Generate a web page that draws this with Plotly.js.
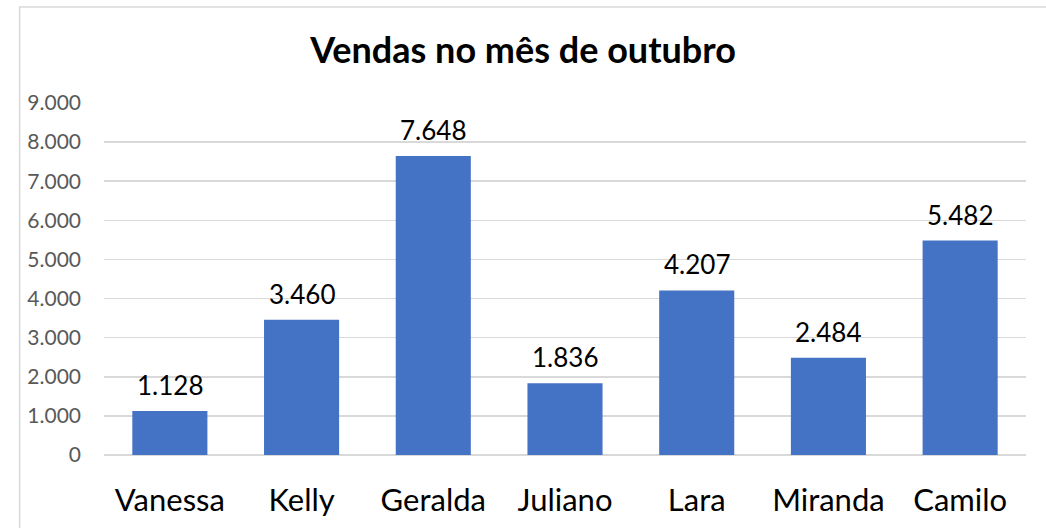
<!DOCTYPE html>
<html><head><meta charset="utf-8">
<script src="https://cdn.plot.ly/plotly-3.0.1.min.js"></script>
<style>body{margin:0;background:#fff}#chart{width:1046px;height:528px}</style>
</head><body><div id="chart"></div>
<script>
const categories = ["Vanessa","Kelly","Geralda","Juliano","Lara","Miranda","Camilo"];
const vendas = [1128, 3460, 7648, 1836, 4207, 2484, 5482];
const yTicks = [0,1000,2000,3000,4000,5000,6000,7000,8000,9000];

const FONT = "Lato, 'Open Sans', sans-serif";
const fmt = v => String(v).replace(/\B(?=(\d{3})+(?!\d))/g, '.');

const trace = {
  type: 'bar', x: categories, y: vendas,
  marker: {color: '#4472C4'},
  hoverinfo: 'skip'
};

const annotations = categories.map((c, i) => ({
  x: c, y: vendas[i], xref: 'x', yref: 'y',
  text: fmt(vendas[i]), showarrow: false,
  yanchor: 'bottom', yshift: 8,
  font: {family: FONT, size: 26, color: '#000'}
}));

const layout = {
  width: 1046, height: 528,
  margin: {l: 104, r: 20, t: 103, b: 73},
  paper_bgcolor: '#fff', plot_bgcolor: '#fff',
  separators: ',.',
  bargap: 0.43,
  showlegend: false,
  title: {text: '<b>Vendas no mês de outubro</b>', x: 0.5, xanchor: 'center', y: 0.905, yanchor: 'middle',
          font: {family: FONT, size: 36, color: '#000'}},
  xaxis: {type: 'category', showgrid: false, showline: false, zeroline: false,
          ticks: '', ticklabelstandoff: 24, tickfont: {family: FONT, size: 31, color: '#000'}, fixedrange: true},
  yaxis: {range: [0, 9000], tickvals: yTicks, ticktext: yTicks.map(fmt),
          showgrid: true, gridcolor: '#D9D9D9', gridwidth: 1.5,
          zeroline: true, zerolinecolor: '#D9D9D9', zerolinewidth: 1.5,
          showline: false, ticks: '', ticklabelstandoff: 22,
          tickfont: {family: FONT, size: 21, color: '#595959'}, fixedrange: true},
  annotations: annotations,
  shapes: [{type: 'rect', xref: 'paper', yref: 'paper', x0: -0.0915, x1: 1.05, y0: -0.5, y1: 1.273,
            line: {color: '#D9D9D9', width: 1.5}, fillcolor: 'rgba(0,0,0,0)', layer: 'below'}]
};

Plotly.newPlot('chart', [trace], layout, {displayModeBar: false, staticPlot: true});
</script></body></html>
